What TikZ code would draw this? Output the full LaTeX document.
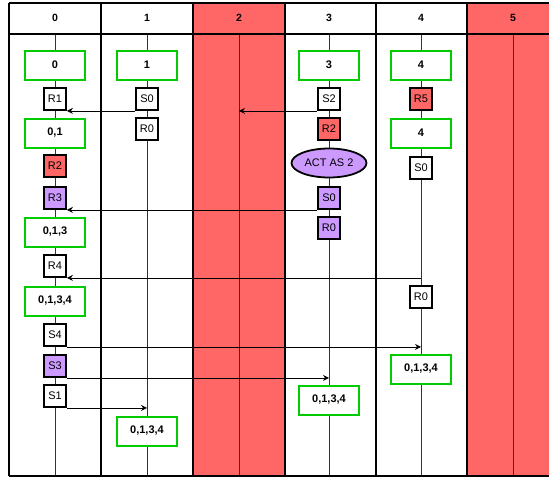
\documentclass[tikz,border=0pt]{standalone}
\usepackage{fontspec}
\setmainfont{Liberation Sans}
\usepackage{xcolor}
\usepackage{tikz}
\definecolor{downred}{RGB}{255, 102, 102}
\definecolor{viewgreen}{RGB}{0, 204, 0}
\definecolor{actpurple}{RGB}{204, 153, 255}
\usetikzlibrary{shapes, arrows.meta, positioning, calc}

\begin{document}
\begin{tikzpicture}[
    x=1pt, y=-1pt,
    view/.style={rectangle, draw=viewgreen, line width=2pt, fill=white, minimum width=60pt, minimum height=29pt, inner sep=0pt, font=\fontsize{11}{12}\selectfont\bfseries},
    msg/.style={rectangle, draw=black, line width=1.8pt, fill=white, minimum width=22pt, minimum height=22pt, inner sep=0pt, font=\fontsize{11}{12}\selectfont},
    lost/.style={msg, fill=downred},
    acted/.style={msg, fill=actpurple},
    actas/.style={ellipse, draw=black, line width=1.8pt, fill=actpurple, minimum width=75pt, minimum height=29pt, inner sep=0pt, font=\fontsize{11}{12}\selectfont},
    head/.style={font=\fontsize{10.5}{12}\selectfont\bfseries},
    grid/.style={line width=2pt},
    life/.style={black!80, line width=0.8pt},
    arrow/.style={-{Stealth[length=6pt, width=6pt, inset=2pt]}, line width=0.7pt}
]
    \clip (0,0) rectangle (549,479);

    % Crashed columns
    \fill[downred] (193,3) rectangle (560,476);
    \fill[white] (285,3) rectangle (467,476);

    % Lifelines
    \coordinate (top0) at (55,34);
    \coordinate (top1) at (147,34);
    \coordinate (top2) at (239,34);
    \coordinate (top3) at (329,34);
    \coordinate (top4) at (421,34);
    \coordinate (top5) at (513,34);
    \draw[life] (top0) -- (55,476);
    \draw[life] (top1) -- (147,476);
    \draw[life] (top2) -- (239,476);
    \draw[life] (top3) -- (329,476);
    \draw[life] (top4) -- (421,476);
    \draw[life] (top5) -- (513,476);

    % Table lines
    \draw[grid] (9,3) -- (560,3);
    \draw[grid] (9,34) -- (560,34);
    \draw[grid] (9,476) -- (560,476);
    \draw[grid] (9,3) -- (9,476);
    \draw[grid] (101,3) -- (101,476);
    \draw[grid] (193,3) -- (193,476);
    \draw[grid] (285,3) -- (285,476);
    \draw[grid] (376,3) -- (376,476);
    \draw[grid] (467,3) -- (467,476);

    % Headers
    \node[head] (h0) at (55,18) {0};
    \node[head] (h1) at (147,18) {1};
    \node[head] (h2) at (239,18) {2};
    \node[head] (h3) at (329,18) {3};
    \node[head] (h4) at (421,18) {4};
    \node[head] (h5) at (513,18) {5};

    % Process 0
    \node[view] (v0) at (55,65) {0};
    \node[msg] (r1) at (55,99) {R1};
    \node[view] (v01) at (55,133) {0,1};
    \node[lost] (r2a) at (55,166) {R2};
    \node[acted] (r3) at (55,198) {R3};
    \node[view] (v013) at (55,232) {0,1,3};
    \node[msg] (r4) at (55,266) {R4};
    \node[view] (v0134) at (55,301) {0,1,3,4};
    \node[msg] (s4) at (55,335) {S4};
    \node[acted] (s3) at (55,366) {S3};
    \node[msg] (s1) at (55,396) {S1};

    % Process 1
    \node[view] (v1) at (147,65) {1};
    \node[msg] (s0a) at (147,99) {S0};
    \node[msg] (r0a) at (147,129) {R0};
    \node[view] (v0134b) at (147,431) {0,1,3,4};

    % Process 3
    \node[view] (v3) at (329,65) {3};
    \node[msg] (s2) at (329,99) {S2};
    \node[lost] (r2b) at (329,129) {R2};
    \node[actas] (act) at (329,163) {ACT AS 2};
    \node[acted] (s0b) at (329,198) {S0};
    \node[acted] (r0b) at (329,228) {R0};
    \node[view] (v0134c) at (329,400) {0,1,3,4};

    % Process 4
    \node[view] (v4) at (421,65) {4};
    \node[lost] (r5) at (421,99) {R5};
    \node[view] (v4b) at (421,133) {4};
    \node[msg] (s0c) at (421,168) {S0};
    \node[msg] (r0c) at (421,297) {R0};
    \node[view] (v0134d) at (421,369) {0,1,3,4};

    % Messages
    \draw[arrow] (s0a.south west) -- (r1.south east);
    \draw[arrow] (s2.south west) -- (s2.south west -| top2);
    \draw[arrow] (s0b.south west) -- (r3.south east);
    \draw[arrow] (r4.south east -| top4) -- (r4.south east);
    \draw[arrow] (s4.south east) -- (s4.south east -| top4);
    \draw[arrow] (s3.south east) -- (s3.south east -| top3);
    \draw[arrow] (s1.south east) -- (s1.south east -| top1);

\end{tikzpicture}
\end{document}
